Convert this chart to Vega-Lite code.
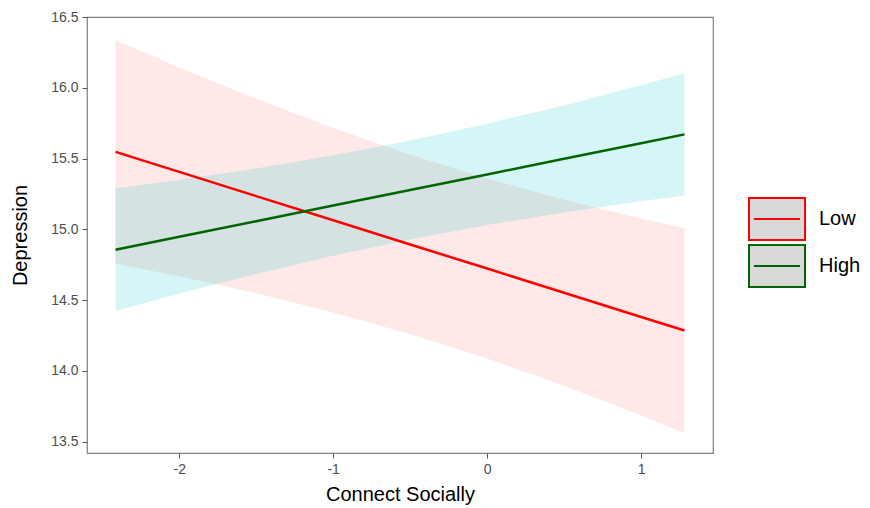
{
  "$schema": "https://vega.github.io/schema/vega-lite/v6.json",
  "width": 626,
  "height": 436,
  "autosize": {"type": "none"},
  "padding": {"left": 87, "top": 17, "right": 157, "bottom": 55},
  "background": "white",
  "config": {
    "view": {"stroke": "#808080", "strokeWidth": 1.2},
    "font": "Liberation Sans",
    "axis": {
      "domain": false,
      "grid": false,
      "ticks": true,
      "tickColor": "#555555",
      "tickSize": 5,
      "labelColor": "#4d4d4d",
      "labelFontSize": 14,
      "labelFont": "Liberation Sans",
      "titleFont": "Liberation Sans",
      "titleFontSize": 20,
      "titleFontWeight": "normal",
      "titleColor": "#000000"
    }
  },
  "data": {
    "values": [
      {"x": -2.414, "group": "Low", "fit": 15.547, "lo": 14.757, "hi": 16.337},
      {"x": -2.0, "group": "Low", "fit": 15.406, "lo": 14.668, "hi": 16.144},
      {"x": -1.5, "group": "Low", "fit": 15.235, "lo": 14.548, "hi": 15.922},
      {"x": -1.0, "group": "Low", "fit": 15.064, "lo": 14.412, "hi": 15.716},
      {"x": -0.5, "group": "Low", "fit": 14.893, "lo": 14.259, "hi": 15.527},
      {"x": 0.0, "group": "Low", "fit": 14.723, "lo": 14.087, "hi": 15.359},
      {"x": 0.5, "group": "Low", "fit": 14.552, "lo": 13.895, "hi": 15.209},
      {"x": 1.0, "group": "Low", "fit": 14.381, "lo": 13.685, "hi": 15.077},
      {"x": 1.282, "group": "Low", "fit": 14.285, "lo": 13.560, "hi": 15.010},
      {"x": -2.414, "group": "High", "fit": 14.856, "lo": 14.424, "hi": 15.288},
      {"x": -2.0, "group": "High", "fit": 14.947, "lo": 14.546, "hi": 15.348},
      {"x": -1.5, "group": "High", "fit": 15.057, "lo": 14.684, "hi": 15.430},
      {"x": -1.0, "group": "High", "fit": 15.168, "lo": 14.813, "hi": 15.523},
      {"x": -0.5, "group": "High", "fit": 15.278, "lo": 14.928, "hi": 15.628},
      {"x": 0.0, "group": "High", "fit": 15.388, "lo": 15.030, "hi": 15.746},
      {"x": 0.5, "group": "High", "fit": 15.498, "lo": 15.119, "hi": 15.877},
      {"x": 1.0, "group": "High", "fit": 15.608, "lo": 15.198, "hi": 16.018},
      {"x": 1.282, "group": "High", "fit": 15.671, "lo": 15.239, "hi": 16.103}
    ]
  },
  "encoding": {
    "x": {
      "field": "x",
      "type": "quantitative",
      "title": "Connect Socially",
      "scale": {"domain": [-2.599, 1.467], "nice": false, "zero": false},
      "axis": {"values": [-2, -1, 0, 1], "labelExpr": "'' + datum.value", "labelPadding": 4, "titlePadding": 8}
    }
  },
  "layer": [
    {
      "transform": [{"filter": "datum.group === 'Low'"}],
      "mark": {"type": "area", "fill": "#F8766D", "fillOpacity": 0.16, "strokeWidth": 0},
      "encoding": {
        "y": {
          "field": "lo",
          "type": "quantitative",
          "title": "Depression",
          "scale": {"domain": [13.42, 16.5], "nice": false, "zero": false},
          "axis": {"values": [13.5, 14.0, 14.5, 15.0, 15.5, 16.0, 16.5], "format": ".1f", "labelPadding": 4, "titlePadding": 20}
        },
        "y2": {"field": "hi"}
      }
    },
    {
      "transform": [{"filter": "datum.group === 'High'"}],
      "mark": {"type": "area", "fill": "#00BFC4", "fillOpacity": 0.16, "strokeWidth": 0},
      "encoding": {
        "y": {"field": "lo", "type": "quantitative"},
        "y2": {"field": "hi"}
      }
    },
    {
      "mark": {"type": "line", "strokeWidth": 2.5},
      "encoding": {
        "y": {"field": "fit", "type": "quantitative"},
        "stroke": {
          "field": "group",
          "type": "nominal",
          "scale": {"domain": ["Low", "High"], "range": ["#ff0000", "#006400"]},
          "legend": {
            "title": null,
            "orient": "none",
            "legendX": 668,
            "legendY": 180,
            "symbolType": "M-1.333,-1H1.333V1H-1.333Z M-1.1,0H1.1",
            "symbolSize": 1764,
            "symbolStrokeWidth": 2,
            "symbolFillColor": "#d9d9d9",
            "labelFontSize": 20,
            "labelColor": "#000000",
            "labelFont": "Liberation Sans",
            "labelOffset": 20,
            "rowPadding": -5,
            "encode": {
              "symbols": {"update": {"fill": {"value": "#d9d9d9"}, "fillOpacity": {"value": 1}, "strokeWidth": {"value": 2}}}
            }
          }
        }
      }
    }
  ]
}
